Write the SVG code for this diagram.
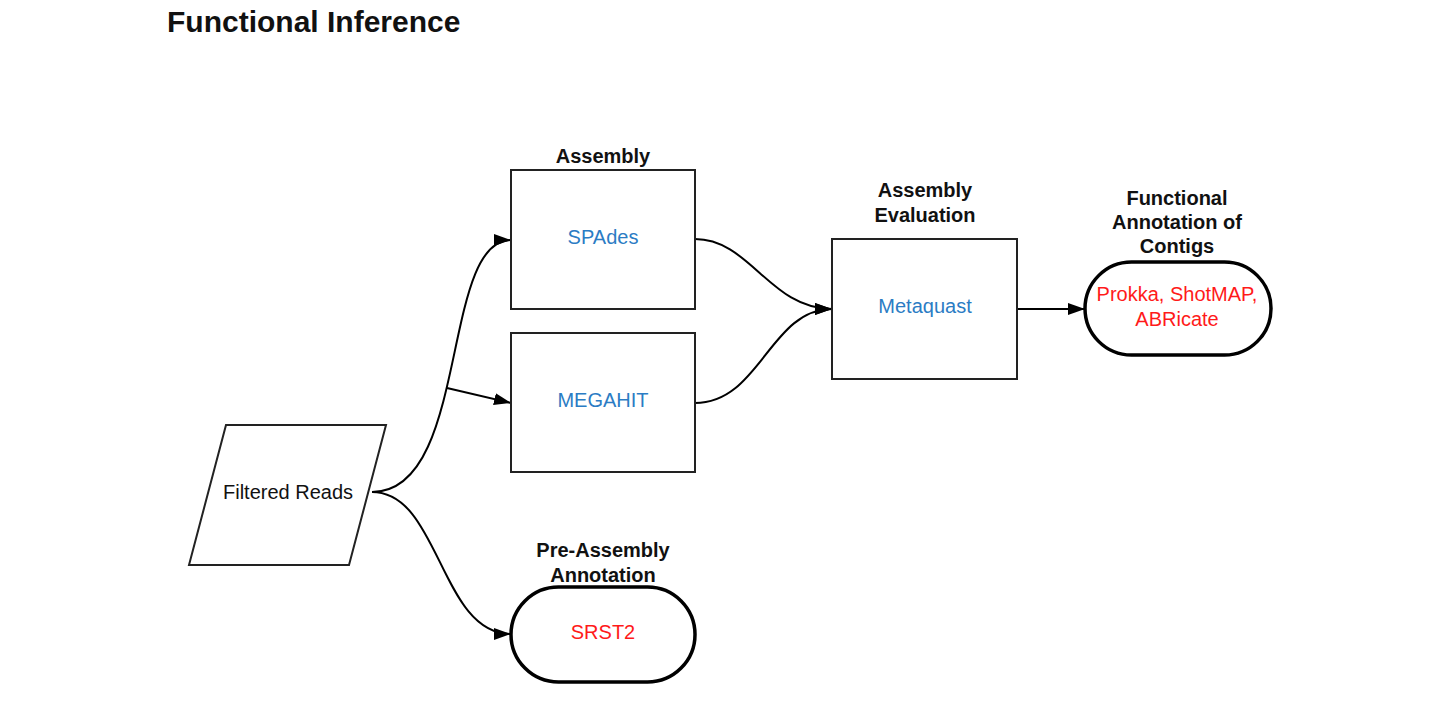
<svg xmlns="http://www.w3.org/2000/svg" width="1432" height="708" viewBox="0 0 1432 708">
<defs>
<marker id="arr" viewBox="0 0 17 12" refX="17" refY="6" markerWidth="17" markerHeight="12" markerUnits="userSpaceOnUse" orient="auto">
<path d="M0,0 L17,6 L0,12 Z" fill="#000"/>
</marker>
<style>
.box{fill:#fff;stroke:#222;stroke-width:2}
.pill{fill:#fff;stroke:#000;stroke-width:3.5}
.conn{fill:none;stroke:#000;stroke-width:2}
.lbl{font-family:"Liberation Sans",Arial,sans-serif;font-size:20px;font-weight:bold;fill:#111;text-anchor:middle}
.t{font-family:"Liberation Sans",Arial,sans-serif;font-size:20px;text-anchor:middle}
.blue{fill:#2b7cc4}
.red{fill:#ff1a1a}
.blk{fill:#111}
</style>
</defs>
<rect width="1432" height="708" fill="#fff"/>
<text x="167" y="32" font-family="Liberation Sans,Arial,sans-serif" font-size="30" font-weight="bold" fill="#111">Functional Inference</text>

<g id="connectors">
<path class="conn" d="M372,492 C470,492 440,240 511,240" marker-end="url(#arr)"/>
<path class="conn" d="M447,388 L511,403" marker-end="url(#arr)"/>
<path class="conn" d="M372,492 C440,492 440,634 511,634" marker-end="url(#arr)"/>
<path class="conn" d="M695,239 C750,239 770,309 832,309" marker-end="url(#arr)"/>
<path class="conn" d="M695,403 C760,403 770,309 832,309" marker-end="url(#arr)"/>
<path class="conn" d="M1017,309 L1085,309" marker-end="url(#arr)"/>
</g>

<g id="filtered-reads">
<polygon class="box" points="226,425 386,425 349,565 189,565"/>
<text class="t blk" x="288" y="499">Filtered Reads</text>
</g>

<g id="spades">
<text class="lbl" x="603" y="163">Assembly</text>
<rect class="box" x="511" y="170" width="184" height="139"/>
<text class="t blue" x="603" y="244">SPAdes</text>
</g>

<g id="megahit">
<rect class="box" x="511" y="333" width="184" height="139"/>
<text class="t blue" x="603" y="407">MEGAHIT</text>
</g>

<g id="metaquast">
<text class="lbl" x="925" y="197">Assembly</text>
<text class="lbl" x="925" y="222">Evaluation</text>
<rect class="box" x="832" y="239" width="185" height="140"/>
<text class="t blue" x="925" y="313">Metaquast</text>
</g>

<g id="functional-annotation">
<text class="lbl" x="1177" y="205">Functional</text>
<text class="lbl" x="1177" y="229">Annotation of</text>
<text class="lbl" x="1177" y="253">Contigs</text>
<rect class="pill" x="1085" y="262" width="186" height="93" rx="46.5" ry="46.5"/>
<text class="t red" x="1177" y="301">Prokka, ShotMAP,</text>
<text class="t red" x="1177" y="326">ABRicate</text>
</g>

<g id="srst2">
<text class="lbl" x="603" y="557">Pre-Assembly</text>
<text class="lbl" x="603" y="582">Annotation</text>
<rect class="pill" x="511" y="587" width="184" height="95" rx="47.5" ry="47.5"/>
<text class="t red" x="603" y="639">SRST2</text>
</g>
</svg>
